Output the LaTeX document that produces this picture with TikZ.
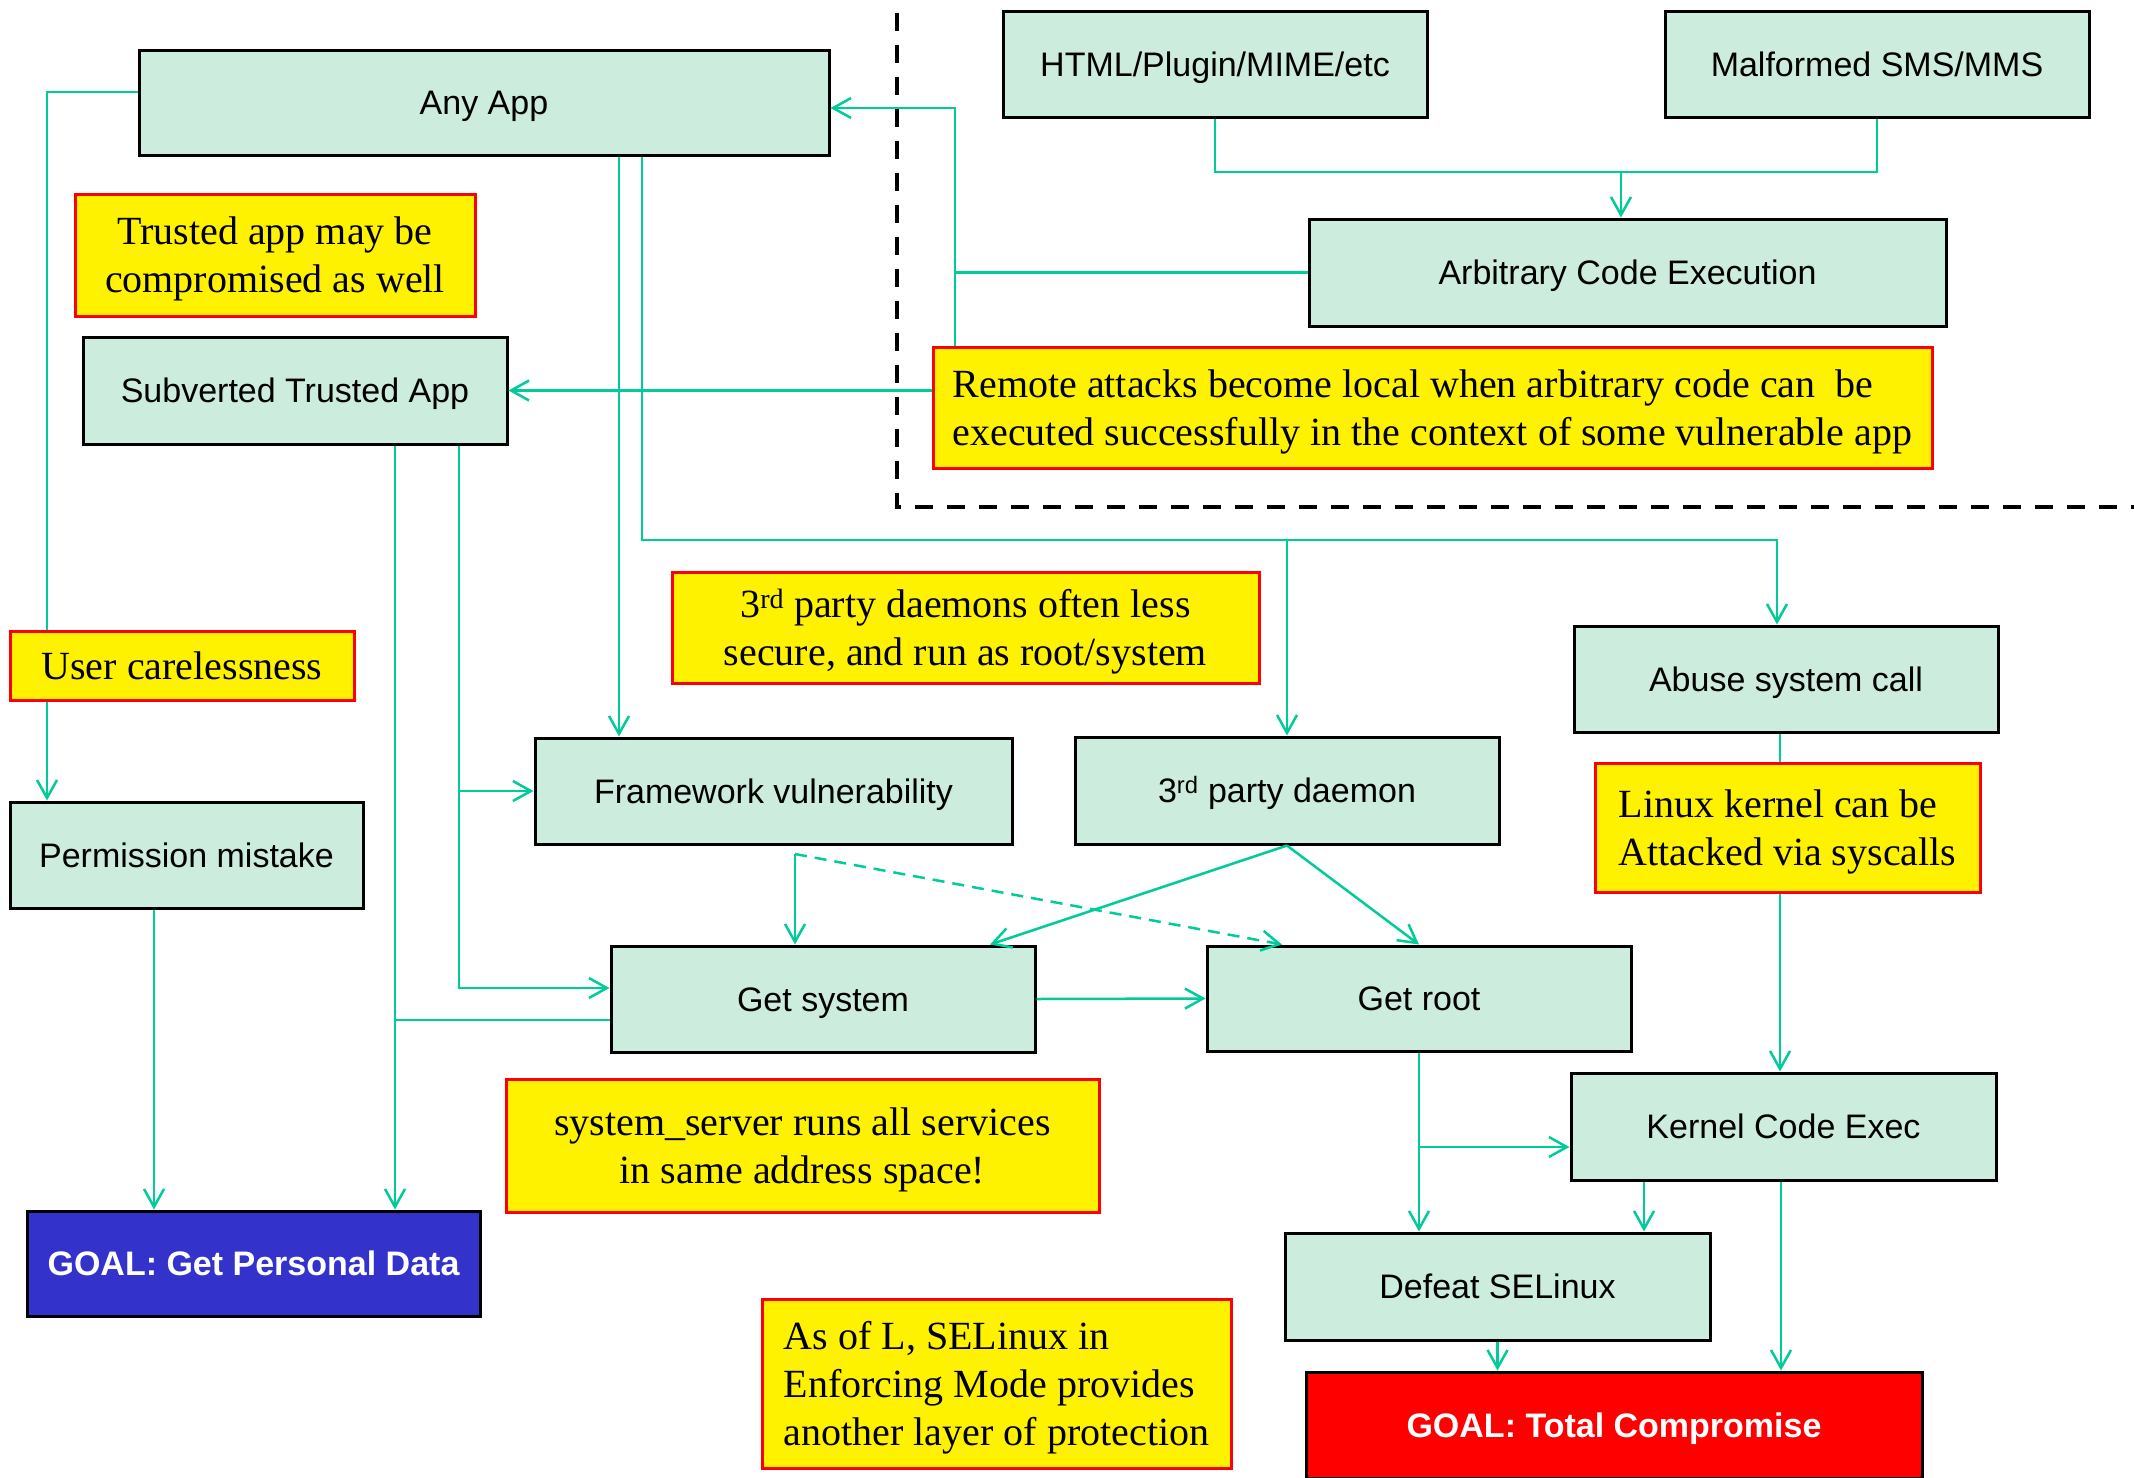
\documentclass[tikz,border=0pt]{standalone}
\usepackage{fontspec}
\setmainfont{Liberation Serif}
\setsansfont{Liberation Sans}
\usetikzlibrary{arrows.meta}

\definecolor{boxfill}{RGB}{204,236,221}
\definecolor{linkcol}{RGB}{0,204,153}
\definecolor{goalblue}{RGB}{51,51,204}

\newcommand{\boxfont}{\sffamily\fontsize{34}{40}\selectfont}
\newcommand{\notefont}{\rmfamily\fontsize{40}{48}\selectfont}

\begin{document}
\begin{tikzpicture}[
    x=1pt, y=-1pt,
    >={Straight Barb[length=18pt,width=20pt]},
    dims/.style 2 args={minimum width=#1pt, minimum height=#2pt},
    box/.style={draw, line width=3pt, fill=boxfill, inner sep=0pt, text height=24pt, text depth=0pt, font=\boxfont},
    goal/.style={box, text=white, font=\boxfont\bfseries},
    note/.style={draw=red, line width=3pt, fill=yellow, inner sep=0pt, text depth=0pt, align=center, font=\notefont},
    link/.style={draw=linkcol, line width=2.5pt},
    fence/.style={draw=black, line width=4pt, dash pattern=on 18pt off 14pt}
]
\useasboundingbox (0,0) rectangle (2134,1478);

\node[box, dims={690}{105}] (anyapp) at (484,102.5) {Any App};
\node[box, dims={424}{106}] (html) at (1215,64) {HTML/Plugin/MIME/etc};
\node[box, dims={424}{106}] (sms) at (1877,64) {Malformed SMS/MMS};
\node[box, dims={637}{107}] (ace) at (1627.5,272.5) {Arbitrary Code Execution};
\node[note, align=left, dims={999}{121}] (remotenote) at (1432.5,407.5)
    {Remote attacks become local when arbitrary code can\ \ be\\executed successfully in the context of some vulnerable app};
\node[note, dims={400}{122}] (trustnote) at (275,255) {Trusted app may be\\compromised as well};
\node[box, dims={424}{107}] (subverted) at (295,390.5) {Subverted Trusted App};
\node[note, dims={344}{69}] (carenote) at (182,665.5) {User carelessness};
\node[box, dims={353}{106}] (permission) at (186.5,855) {Permission mistake};
\node[note, dims={587}{111}] (daemonnote) at (965.5,627.5)
    {3\textsuperscript{rd} party daemons often less\\secure, and run as root/system};
\node[box, dims={477}{106}] (framework) at (773.5,791) {Framework vulnerability};
\node[box, dims={424}{107}] (daemon) at (1287,790.5) {3\textsuperscript{rd} party daemon};
\node[box, dims={424}{106}] (abuse) at (1786,679) {Abuse system call};
\node[note, align=left, dims={385}{129}] (kernelnote) at (1787.5,827.5) {Linux kernel can be\\Attacked via syscalls};
\node[box, dims={424}{106}] (getsystem) at (823,999) {Get system};
\node[box, dims={424}{105}] (getroot) at (1419,998.5) {Get root};
\node[box, dims={425}{107}] (kernel) at (1783.5,1126.5) {Kernel Code Exec};
\node[note, dims={593}{133}] (servernote) at (802.5,1145.5)
    {system\_server runs all services\\in same address space!};
\node[goal, fill=goalblue, dims={453}{105}] (personal) at (253.5,1263.5) {GOAL: Get Personal Data};
\node[box, dims={425}{107}] (defeat) at (1497.5,1286.5) {Defeat SELinux};
\node[note, align=left, dims={469}{169}] (selinuxnote) at (996.5,1383.5)
    {As of L, SELinux in\\Enforcing Mode provides\\another layer of protection};
\node[goal, fill=red, dims={616}{106}] (total) at (1614,1425) {GOAL: Total Compromise};

\coordinate (merge) at (1621,172);
\draw[link] (html.south) |- (sms.south |- merge) -- (sms.south);
\draw[link, ->] (merge) -- (merge |- ace.north);

\coordinate (backup) at (955,108);
\draw[link, ->] (remotenote.north -| backup) -- (backup) -- (backup -| anyapp.east);
\draw[link] (ace.west) -- (ace.west -| backup);
\draw[link, ->] (remotenote.west |- subverted) -- (subverted.east);

\coordinate (outer) at (47,92);
\draw[link] (outer -| anyapp.west) -- (outer) -- (outer |- carenote.north);
\draw[link, ->] (outer |- carenote.south) -- (outer |- permission.north);

\coordinate (fwtap) at (619,0);
\draw[link, ->] (anyapp.south -| fwtap) -- (framework.north -| fwtap);

\coordinate (bus) at (642,540);
\coordinate (abusein) at (1777,540);
\draw[link, ->] (anyapp.south -| bus) -- (bus) -- (abusein) -- (abusein |- abuse.north);
\draw[link, ->] (bus -| daemon.north) -- (daemon.north);

\coordinate (sysin) at (459,988);
\draw[link, ->] (subverted.south -| sysin) -- (sysin) -- (sysin -| getsystem.west);
\draw[link, ->] (sysin |- framework.west) -- (framework.west);

\coordinate (dataline) at (395,1020);
\draw[link, ->] (subverted.south -| dataline) -- (dataline |- personal.north);
\draw[link] (getsystem.west |- dataline) -- (dataline);

\coordinate (permout) at (154,0);
\draw[link, ->] (permission.south -| permout) -- (personal.north -| permout);

\coordinate (fwout) at (795,854);
\coordinate (rootin) at (1282,0);
\coordinate (sysdiag) at (990,0);
\draw[link, ->] (fwout) -- (fwout |- getsystem.north);
\draw[link, dash pattern=on 12pt off 8pt, ->] (fwout) -- (getroot.north -| rootin);
\draw[link, ->] (daemon.south) -- (getsystem.north -| sysdiag);
\draw[link, ->] (daemon.south) -- (getroot.north);
\draw[link, ->] (getsystem.east) -- (getroot.west);

\coordinate (kline) at (1780,0);
\draw[link] (abuse.south -| kline) -- (kernelnote.north -| kline);
\draw[link, ->] (kernelnote.south -| kline) -- (kernel.north -| kline);

\coordinate (rootsplit) at (1419,1147);
\draw[link, ->] (getroot.south) -- (defeat.north -| getroot.south);
\draw[link, ->] (rootsplit) -- (rootsplit -| kernel.west);

\coordinate (kleft) at (1644,0);
\coordinate (kright) at (1781,0);
\draw[link, ->] (kernel.south -| kleft) -- (defeat.north -| kleft);
\draw[link, ->] (kernel.south -| kright) -- (total.north -| kright);
\draw[link, ->] (defeat.south) -- (total.north -| defeat.south);

\draw[fence] (897,13) -- (897,507) -- (2134,507);

\end{tikzpicture}
\end{document}
